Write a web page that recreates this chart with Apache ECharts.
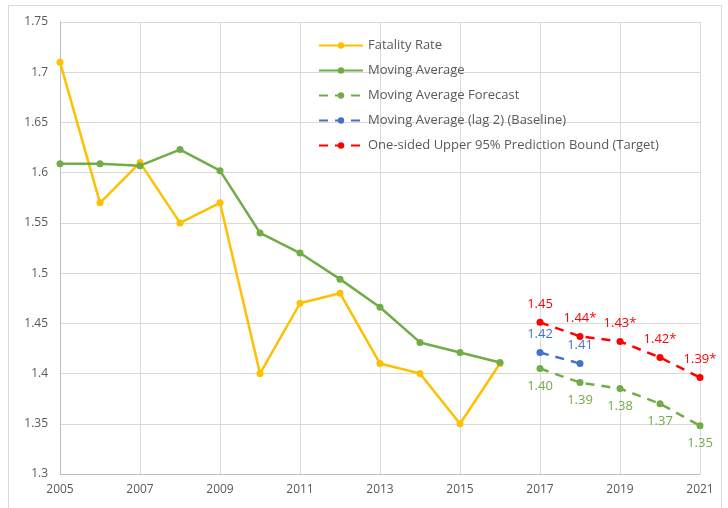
<!DOCTYPE html>
<html><head><meta charset="utf-8">
<script src="https://cdn.jsdelivr.net/npm/echarts@6/dist/echarts.min.js"></script>
<style>html,body{margin:0;padding:0;background:#fff}#c{width:728px;height:508px}</style>
</head><body><div id="c"></div>
<script>
const years = [2005,2006,2007,2008,2009,2010,2011,2012,2013,2014,2015,2016];
const fatalityRate = [1.71,1.57,1.61,1.55,1.57,1.40,1.47,1.48,1.41,1.40,1.35,1.41];
const movingAverage = [1.609,1.609,1.607,1.623,1.602,1.540,1.520,1.494,1.466,1.431,1.421,1.411];
const forecastYears = [2017,2018,2019,2020,2021];
const forecast = [1.405,1.391,1.385,1.370,1.348];
const forecastLabels = ['1.40','1.39','1.38','1.37','1.35'];
const baselineYears = [2017,2018];
const baseline = [1.421,1.410];
const baselineLabels = ['1.42','1.41'];
const targetYears = [2017,2018,2019,2020,2021];
const target = [1.451,1.437,1.432,1.416,1.396];
const targetLabels = ['1.45','1.44*','1.43*','1.42*','1.39*'];

const pairs = (xs, ys) => xs.map((x,i)=>[x, ys[i]]);
const FONT = 'Open Sans';
const txt = '#595959';

function lineSeries(name, xs, ys, color, dashed, labels, pos) {
  const s = {
    name, type:'line', data: pairs(xs, ys), symbol:'circle', symbolSize:7,
    itemStyle:{color}, lineStyle:{color, width:2.5, type: dashed ? [9,7] : 'solid'},
    z: 3
  };
  if (labels) {
    s.label = {show:true, position:pos, distance:8, color, fontFamily:FONT, fontSize:13,
      formatter: p => labels[p.dataIndex]};
  }
  return s;
}

const chart = echarts.init(document.getElementById('c'));
chart.setOption({
  animation:false,
  textStyle:{fontFamily:FONT},
  graphic:[{type:'rect', shape:{x:8.5,y:5.5,width:713,height:520}, style:{fill:'none', stroke:'#d9d9d9', lineWidth:1}, silent:true, z:-10}],
  grid:{left:60, right:28, top:22, bottom:34},
  legend:{
    orient:'vertical', left:313, top:34, itemGap:12, itemWidth:44, itemHeight:8,
    textStyle:{color:txt, fontSize:13, fontFamily:FONT},
    data:['Fatality Rate','Moving Average','Moving Average Forecast','Moving Average (lag 2) (Baseline)','One-sided Upper 95% Prediction Bound (Target)']
  },
  xAxis:{
    type:'value', min:2005, max:2021, interval:2,
    axisLine:{show:true, lineStyle:{color:'#bfbfbf'}}, axisTick:{show:false},
    axisLabel:{color:txt, fontSize:12, margin:10, formatter: v => String(v)},
    splitLine:{show:true, lineStyle:{color:'#d9d9d9'}}
  },
  yAxis:{
    type:'value', min:1.3, max:1.75, interval:0.05,
    axisLine:{show:true, lineStyle:{color:'#bfbfbf'}}, axisTick:{show:false},
    axisLabel:{color:txt, fontSize:12, margin:12, formatter: v => String(+v.toFixed(2))},
    splitLine:{show:true, lineStyle:{color:'#d9d9d9'}}
  },
  series:[
    lineSeries('Fatality Rate', years, fatalityRate, '#FFC000', false),
    lineSeries('Moving Average', years, movingAverage, '#70AD47', false),
    lineSeries('Moving Average Forecast', forecastYears, forecast, '#70AD47', true, forecastLabels, 'bottom'),
    lineSeries('Moving Average (lag 2) (Baseline)', baselineYears, baseline, '#4472C4', true, baselineLabels, 'top'),
    lineSeries('One-sided Upper 95% Prediction Bound (Target)', targetYears, target, '#FF0000', true, targetLabels, 'top')
  ]
});
</script></body></html>
